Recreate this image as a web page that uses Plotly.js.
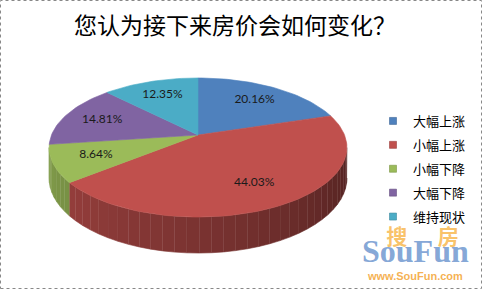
<!DOCTYPE html>
<html><head><meta charset="utf-8">
<script src="https://cdn.plot.ly/plotly-3.0.1.min.js"></script>
<style>html,body{margin:0;padding:0;background:#fff}#c{width:482px;height:289px}</style>
</head><body><div id="c"></div>
<script>
// ---- data ----
const categories = ['大幅上涨', '小幅上涨', '小幅下降', '大幅下降', '维持现状'];
const values = [20.16, 44.03, 8.64, 14.81, 12.35];
const valueLabels = ['20.16%', '44.03%', '8.64%', '14.81%', '12.35%'];
const titleText = '您认为接下来房价会如何变化？';

// ---- styling / geometry ----
const colors = ['#4F81BD', '#C0504D', '#9BBB59', '#8064A2', '#4BACC6'];
const W = 482, H = 289;
const cx = 198, cy = 135, R = 146.5, RY = 67.3, K = 0.18, DEPTH = 29.5;

function proj(thetaDeg, f) {
  const t = thetaDeg * Math.PI / 180;
  const u = Math.sin(t) * f, v = -Math.cos(t) * f;
  const s = 1 / (1 - K * v);
  return {x: cx + R * u * s, y: cy + RY * v * s, s: s};
}
function shade(hex, fac) {
  const n = parseInt(hex.slice(1), 16);
  const r = Math.round(((n >> 16) & 255) * fac), g = Math.round(((n >> 8) & 255) * fac), b = Math.round((n & 255) * fac);
  return 'rgb(' + r + ',' + g + ',' + b + ')';
}

const total = values.reduce((a, b) => a + b, 0);
const bounds = [0];
values.forEach((v, i) => bounds.push(bounds[i] + v / total * 360));

const traces = [];
// side wall (visible front part)
const th1 = Math.acos(-K) * 180 / Math.PI, th2 = 360 - th1;
values.forEach((v, i) => {
  const a = Math.max(bounds[i], th1), b = Math.min(bounds[i + 1], th2);
  if (b <= a) return;
  const nSeg = Math.max(1, Math.ceil((b - a) / 4));
  for (let k = 0; k < nSeg; k++) {
    const s0 = a + (b - a) * k / nSeg, s1 = a + (b - a) * (k + 1) / nSeg;
    const xs = [], ys = [];
    for (let j = 0; j <= 4; j++) { const p = proj(s0 + (s1 - s0) * j / 4, 1); xs.push(p.x); ys.push(p.y); }
    for (let j = 4; j >= 0; j--) { const p = proj(s0 + (s1 - s0) * j / 4, 1); xs.push(p.x); ys.push(p.y + DEPTH * p.s); }
    const mid = (s0 + s1) / 2;
    const fac = 0.40 + 0.47 * (mid - 90) / 180;
    const col = shade(colors[i], fac);
    traces.push({type: 'scatter', mode: 'lines', x: xs, y: ys, fill: 'toself', fillcolor: col,
      line: {color: col, width: 0.6}, showlegend: false, hoverinfo: 'skip'});
  }
});
// top faces
values.forEach((v, i) => {
  const xs = [cx], ys = [cy];
  const a = bounds[i], b = bounds[i + 1];
  const n = Math.max(6, Math.ceil((b - a) / 2));
  for (let j = 0; j <= n; j++) { const p = proj(a + (b - a) * j / n, 1); xs.push(p.x); ys.push(p.y); }
  xs.push(cx); ys.push(cy);
  traces.push({type: 'scatter', mode: 'lines', x: xs, y: ys, fill: 'toself', fillcolor: colors[i],
    line: {color: colors[i], width: 0.6}, showlegend: false, hoverinfo: 'skip', name: categories[i]});
});
// data labels
const lx = [], ly = [];
values.forEach((v, i) => { const p = proj((bounds[i] + bounds[i + 1]) / 2, 0.72); lx.push(p.x); ly.push(p.y); });
traces.push({type: 'scatter', mode: 'text', x: lx, y: ly, text: valueLabels, textposition: 'middle center',
  textfont: {family: 'Lato, "Open Sans", sans-serif', size: 12, color: '#1a1a1a'}, showlegend: false, hoverinfo: 'skip'});
// legend entries
categories.forEach((c, i) => {
  traces.push({type: 'scatter', mode: 'markers', x: [null], y: [null], name: c, legendgroup: 'g' + i,
    marker: {symbol: 'square', size: 7, color: colors[i], line: {color: shade(colors[i], 0.8), width: 0.6}}});
});

const wm = `<span style="font-family:'Noto Sans CJK SC';font-size:21px;font-weight:bold;color:rgba(248,184,80,0.9)">\u00a0\u00a0\u00a0搜\u3000\u00a0\u00a0房</span>` +
  `<br><span style="font-family:'Liberation Serif';font-size:32px;font-weight:bold;color:rgba(112,152,208,0.9)">SouFun</span>` +
  `<br><span style="font-size:11px;font-weight:bold;color:rgba(244,168,60,0.95)">www.SouFun.com</span>`;

const layout = {
  width: W, height: H, margin: {l: 0, r: 0, t: 0, b: 0},
  paper_bgcolor: '#ffffff', plot_bgcolor: '#ffffff',
  xaxis: {range: [0, W], visible: false, fixedrange: true},
  yaxis: {range: [H, 0], visible: false, fixedrange: true},
  title: {text: titleText, x: 235 / W, xanchor: 'center', y: 1 - 26 / H, yanchor: 'middle',
    font: {family: '"Noto Sans CJK SC", sans-serif', size: 23, color: '#000'}},
  showlegend: true,
  legend: {x: 373 / W, xanchor: 'left', y: 1 - 106 / H, yanchor: 'top', bgcolor: 'rgba(0,0,0,0)',
    font: {family: '"Noto Sans CJK SC", sans-serif', size: 13, color: '#000'}, tracegroupgap: 4, traceorder: 'grouped'},
  shapes: [{type: 'rect', xref: 'paper', yref: 'paper', x0: 0.5 / W, x1: 1 - 0.5 / W, y0: 0.5 / H, y1: 1 - 0.5 / H,
    line: {color: '#888', width: 1, dash: 'dot'}}],
  annotations: [
    {x: 415, y: 283, xref: 'x', yref: 'y', yanchor: 'bottom', xanchor: 'center', align: 'center', borderpad: 0,
      text: wm, showarrow: false,
      font: {family: '"Liberation Sans", Arial, sans-serif', size: 14, color: 'rgba(244,168,60,0.95)'}}
  ]
};
Plotly.newPlot('c', traces, layout, {displayModeBar: false, staticPlot: true});
</script></body></html>
